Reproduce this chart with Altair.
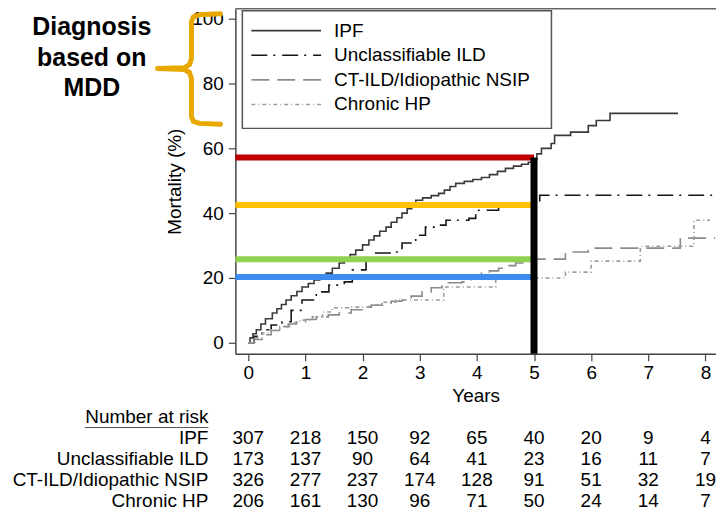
import altair as alt
import pandas as pd

FONT = "Liberation Sans"

SERIES = ["IPF", "Unclassifiable ILD", "CT-ILD/Idiopathic NSIP", "Chronic HP"]
COLORS = ["#3a3a3a", "#151515", "#8a8a8a", "#9c9c9c"]
DASHES = [[1, 0], [16, 6, 2, 7], [18, 8], [4, 3, 1, 3]]

# Kaplan-Meier style curves (years, mortality %)
ipf_t = [0, 0.03, 0.08, 0.14, 0.22, 0.3, 0.42, 0.5, 0.58, 0.66, 0.75, 0.85, 0.94, 1.05, 1.15,
         1.25, 1.36, 1.47, 1.59, 1.68, 1.78, 1.88, 2.0, 2.11, 2.2, 2.3, 2.41, 2.5, 2.6, 2.69,
         2.78, 2.86, 2.93, 3.05, 3.2, 3.33, 3.43, 3.53, 3.63, 3.78, 3.93, 4.08, 4.22, 4.36,
         4.5, 4.64, 4.78, 4.9, 5.0, 5.05, 5.13, 5.3, 5.36, 5.64, 5.95, 6.09, 6.33, 7.52]
ipf_v = [0, 1.5, 2.8, 4, 5.8, 7.4, 9.2, 10.5, 11.8, 13.2, 14.5, 15.8, 17.2, 18.3, 19.4,
         20.4, 21.5, 23, 24.6, 25.9, 27.2, 28.6, 30.2, 31.7, 33, 34.4, 35.7, 37.2, 38.6, 40,
         41.4, 42.7, 44, 44.7, 45.4, 46.1, 47.1, 48.2, 49.2, 49.8, 50.4, 51, 51.9, 52.9,
         53.8, 54.5, 55.1, 55.7, 56.5, 58.3, 60, 61.5, 64, 65, 67, 68.6, 70.8, 70.8]

unc_t = [0, 0.1, 0.24, 0.4, 0.59, 0.75, 0.94, 1.19, 1.41, 1.68, 1.82, 2.06, 2.23, 2.51, 2.69,
         2.93, 3.1, 3.33, 3.46, 3.86, 3.98, 4.38, 5.1, 8.18]
unc_v = [0, 2, 4, 5.5, 6.5, 10, 13.2, 15.7, 17.8, 18.8, 22.5, 25.6, 27.7, 28, 30.8,
         33.2, 35.7, 36.3, 37.8, 38.4, 40.9, 42.5, 45.5, 45.5]

ct_t = [0, 0.1, 0.24, 0.4, 0.54, 0.7, 0.84, 1.0, 1.19, 1.4, 1.59, 1.8, 1.99, 2.15, 2.34, 2.5,
        2.69, 2.85, 3.04, 3.2, 3.39, 3.74, 3.9, 4.08, 4.22, 4.38, 4.52, 4.68, 4.85, 4.96,
        5.55, 5.95, 7.56, 8.17]
ct_v = [0, 1, 2.5, 3.8, 5, 5.8, 6.5, 7.2, 8, 8.6, 9.2, 10.2, 11, 11.6, 12.3, 12.8,
        13.2, 14.4, 15.7, 17, 18.5, 18.8, 20.2, 21.5, 22.2, 23, 23.8, 24.6, 25.2, 25.8,
        28, 29.2, 32.3, 32.3]

hp_t = [0, 0.12, 0.25, 0.37, 0.55, 0.72, 0.9, 1.12, 1.3, 1.47, 1.76, 2.11, 2.35, 2.58, 3.42,
        4.33, 5.55, 6.0, 6.86, 7.8, 8.08]
hp_v = [0, 1.5, 3, 4, 5, 6.2, 7, 8, 9.5, 10.8, 11, 11.7, 12.5, 13.2, 17.2,
        20, 21.8, 25.2, 29.8, 37.8, 37.8]

# 5-year mortality reference levels
ref_levels = [57.2, 42.5, 25.8, 20.3]
ref_colors = ["#C00000", "#FFC000", "#92D050", "#3C8CF0"]
ref_year = 5

# Number at risk table
years = [0, 1, 2, 3, 4, 5, 6, 7, 8]
risk_ipf = [307, 218, 150, 92, 65, 40, 20, 9, 4]
risk_unc = [173, 137, 90, 64, 41, 23, 16, 11, 7]
risk_ct = [326, 277, 237, 174, 128, 91, 51, 32, 19]
risk_hp = [206, 161, 130, 96, 71, 50, 24, 14, 7]
RISK_HEADER = "Number at risk"

# curly brace annotation (years, %)
brace_x = [-0.489, -0.855, -0.96, -0.995, -0.995, -1.03, -1.117, -1.588, -1.117, -1.03,
           -0.995, -0.995, -0.96, -0.855, -0.489]
brace_y = [101.5, 101.2, 100.6, 99.1, 87.7, 85.8, 84.9, 84.6, 84.3, 83.4,
           81.5, 69.8, 68.3, 67.7, 67.4]

XMIN, XMAX = -0.227, 8.185
YMIN, YMAX = -3.38, 103.08
PLOT_W, PLOT_H = 482, 346

# ---------- build tables ----------
rows = []
for name, ts, vs in zip(SERIES, [ipf_t, unc_t, ct_t, hp_t], [ipf_v, unc_v, ct_v, hp_v]):
    for t, v in zip(ts, vs):
        rows.append({"series": name, "t": t, "v": v})
curves = pd.DataFrame(rows)

refs = pd.DataFrame({"v": ref_levels, "c": ref_colors, "x0": XMIN, "x1": ref_year})
black = pd.DataFrame({"t": [ref_year], "lo": [YMIN], "hi": [ref_levels[0]]})
brace = pd.DataFrame({"x": brace_x, "y": brace_y, "i": list(range(len(brace_x)))})

risk_rows = []
for name, counts in zip(SERIES, [risk_ipf, risk_unc, risk_ct, risk_hp]):
    for yr, n in zip(years, counts):
        risk_rows.append({"row": name, "year": yr, "n": str(n)})
risk = pd.DataFrame(risk_rows)
risk_labels = pd.DataFrame({"row": [RISK_HEADER] + SERIES})
legend_df = pd.DataFrame({"series": SERIES})
one = pd.DataFrame({"a": [0]})

xscale = alt.Scale(domain=[XMIN, XMAX], nice=False, zero=False)
yscale = alt.Scale(domain=[YMIN, YMAX], nice=False, zero=False)
color = alt.Color("series:N", scale=alt.Scale(domain=SERIES, range=COLORS), legend=None)
dash = alt.StrokeDash("series:N", scale=alt.Scale(domain=SERIES, range=DASHES), legend=None)

xaxis = alt.Axis(values=years, title="Years", format="d", tickSize=7, labelPadding=3,
                 titlePadding=4, labelFontSize=19, titleFontSize=19, titleFontWeight="normal")
yaxis = alt.Axis(values=[0, 20, 40, 60, 80, 100], title="Mortality (%)", tickSize=7,
                 labelPadding=5, titlePadding=7, labelFontSize=19, titleFontSize=19,
                 titleFontWeight="normal")

curves_ch = alt.Chart(curves).mark_line(interpolate="step-after", strokeWidth=1.6).encode(
    x=alt.X("t:Q", scale=xscale, axis=xaxis),
    y=alt.Y("v:Q", scale=yscale, axis=yaxis),
    color=color,
    strokeDash=dash,
)

ref_ch = alt.Chart(refs).mark_rule(strokeWidth=6).encode(
    x=alt.X("x0:Q", scale=xscale),
    x2="x1:Q",
    y=alt.Y("v:Q", scale=yscale),
    stroke=alt.Stroke("c:N", scale=None),
)

black_ch = alt.Chart(black).mark_rule(strokeWidth=7, color="black").encode(
    x=alt.X("t:Q", scale=xscale),
    y=alt.Y("lo:Q", scale=yscale),
    y2="hi:Q",
)

brace_ch = alt.Chart(brace).mark_line(color="#E8A800", strokeWidth=5, clip=False,
                                      strokeJoin="round", strokeCap="round").encode(
    x=alt.X("x:Q", scale=xscale),
    y=alt.Y("y:Q", scale=yscale),
    order="i:Q",
)

diag_ch = alt.Chart(one).mark_text(
    text="Diagnosis\nbased on\nMDD", lineBreak="\n", lineHeight=31, font=FONT,
    fontSize=25, fontWeight="bold", align="center", baseline="alphabetic", color="black"
).encode(x=alt.value(-144), y=alt.value(26))

top_frame = alt.Chart(one).mark_rule(color="#666", strokeWidth=1.5).encode(
    x=alt.value(0), x2=alt.value(PLOT_W), y=alt.value(0)
)

box_ch = alt.Chart(one).mark_rect(fill="white", stroke="#555", strokeWidth=1.5).encode(
    x=alt.value(7), x2=alt.value(317), y=alt.value(2), y2=alt.value(120)
)

main = alt.layer(curves_ch, ref_ch, black_ch, brace_ch, diag_ch, top_frame, box_ch)

leg_y = alt.Y("series:N", scale=alt.Scale(type="point", domain=SERIES, range=[22, 96], padding=0),
              axis=None)
leg_rules = alt.Chart(legend_df).mark_rule(strokeWidth=1.6).encode(
    x=alt.value(16), x2=alt.value(86), y=leg_y, color=color, strokeDash=dash
)
leg_text = alt.Chart(legend_df).mark_text(align="left", baseline="middle", fontSize=19,
                                          font=FONT, color="black").encode(
    x=alt.value(99), y=leg_y, text="series:N"
)
legend = alt.layer(leg_rules, leg_text)

tab_y = alt.Y("row:N", scale=alt.Scale(type="point", domain=[RISK_HEADER] + SERIES,
                                       range=[409, 494], padding=0), axis=None)
tab_nums = alt.Chart(risk).mark_text(align="center", baseline="middle", fontSize=19,
                                     font=FONT, color="black").encode(
    x=alt.X("year:Q", scale=xscale), y=tab_y, text="n:N"
)
tab_labels = alt.Chart(risk_labels).mark_text(align="right", baseline="middle", fontSize=19,
                                              font=FONT, color="black").encode(
    x=alt.value(-27), y=tab_y, text="row:N"
)
underline = alt.Chart(one).mark_rule(color="#555", strokeWidth=1).encode(
    x=alt.value(-151), x2=alt.value(-27), y=alt.value(420)
)
table = alt.layer(tab_nums, tab_labels, underline)

chart = alt.layer(main, legend, table).resolve_scale(y="independent").properties(
    width=PLOT_W, height=PLOT_H,
    padding={"left": 228, "top": 0, "right": 0, "bottom": 159},
    autosize=alt.AutoSizeParams(type="none"),
    background="white",
).configure_axis(
    domainColor="#444", tickColor="#444", labelColor="black", titleColor="black",
    labelFont=FONT, titleFont=FONT, domainWidth=1.5, tickWidth=1.2, grid=False,
).configure_view(strokeWidth=0).configure_text(font=FONT)

chart.save("out.html", embed_options={"renderer": "svg", "actions": False})
